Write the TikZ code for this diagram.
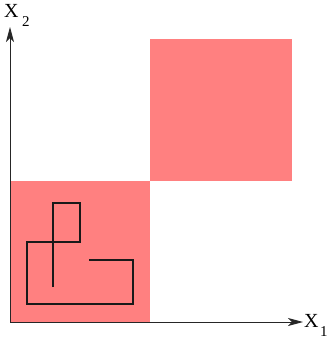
\documentclass[tikz,border=0pt]{standalone}
\usepackage{fontspec}
\setmainfont{Liberation Serif}
\usetikzlibrary{arrows.meta}
\definecolor{sqred}{RGB}{255,128,128}
\tikzset{
  axis/.style={line width=0.9pt, draw=black!85, -{Stealth[length=15pt,width=8pt,inset=4pt]}},
  sq/.style={fill=sqred, draw=none},
  walk/.style={line width=1.1pt, draw=black!90, line join=miter},
  lbl/.style={inner sep=0pt, anchor=base west, font=\fontsize{20}{22}\selectfont},
  sublbl/.style={inner sep=0pt, anchor=base west, font=\fontsize{15}{17}\selectfont}
}
\begin{document}
\begin{tikzpicture}[x=1pt,y=-1pt]
\useasboundingbox (0,0) rectangle (329,341);
\fill[sq] (10,181) rectangle (150,322);
\fill[sq] (150,39) rectangle (292,181);
\draw[walk] (53,287) -- (53,203) -- (80,203) -- (80,242) -- (27,242) -- (27,304) -- (133,304) -- (133,260) -- (89,260);
\coordinate (O) at (10,322);
\coordinate (xend) at (303,322);
\coordinate (yend) at (10,27);
\draw[axis] (O) -- (xend);
\draw[axis] (O) -- (yend);
\node[lbl] (x2) at (4,17) {X};
\node[sublbl] (s2) at (22,26.5) {2};
\node[lbl] (x1) at (304,327) {X};
\node[sublbl] (s1) at (320,336) {1};
\end{tikzpicture}
\end{document}
